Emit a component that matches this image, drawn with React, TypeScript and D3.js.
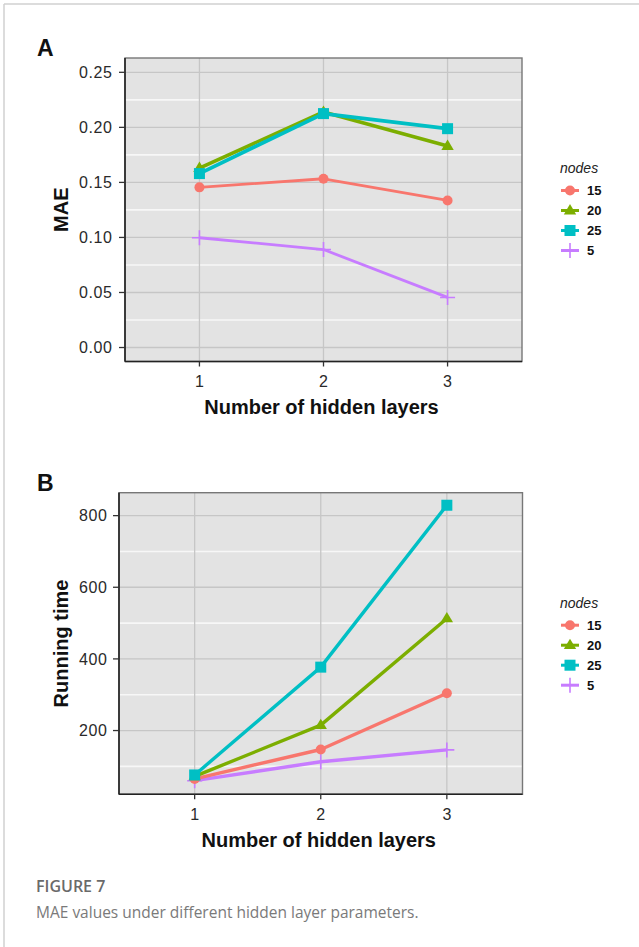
import React from "react";
import * as d3 from "d3";

const layers = [1, 2, 3];
const seriesNames = ["15", "20", "25", "5"];
const seriesColors = ["#F8766D", "#7CAE00", "#00BFC4", "#C77CFF"];
const seriesShapes = ["circle", "triangle", "square", "plus"];

const maeValues: number[][] = [
  [0.1455, 0.1533, 0.1336],
  [0.163, 0.214, 0.183],
  [0.158, 0.2125, 0.1988],
  [0.0997, 0.089, 0.0455],
];
const maeTicks = [0.0, 0.05, 0.1, 0.15, 0.2, 0.25];
const maeMinor = [0.025, 0.075, 0.125, 0.175, 0.225];

const timeValues: number[][] = [
  [65, 147, 304],
  [72, 215, 513],
  [76, 377, 829],
  [60, 113, 146],
];
const timeTicks = [200, 400, 600, 800];
const timeMinor = [100, 300, 500, 700];

const FONT = "'Liberation Sans', Arial, Helvetica, sans-serif";

function Marker({ shape, x, y, color, s = 1 }: any) {
  if (shape === "circle") return <circle cx={x} cy={y} r={5 * s} fill={color} />;
  if (shape === "square") {
    const h = 5.5 * s;
    return <rect x={x - h} y={y - h} width={2 * h} height={2 * h} fill={color} />;
  }
  if (shape === "triangle") {
    const h = 6.5 * s;
    return <path d={`M${x},${y - h}L${x + h * 0.95},${y + h * 0.6}L${x - h * 0.95},${y + h * 0.6}Z`} fill={color} />;
  }
  const h = 7.5 * s;
  return (
    <path d={`M${x - h},${y}H${x + h}M${x},${y - h}V${y + h}`} stroke={color} strokeWidth={1.6} fill="none" />
  );
}

function Panel({ top, bottom, left, right, yDomain, values, ticks, minor, fmt, yTitle, letter, tickRight, lineWidths }: any) {
  const x = d3.scaleLinear().domain([0.4, 3.6]).range([left, right]);
  const y = d3.scaleLinear().domain(yDomain).range([bottom, top]);
  const line = d3
    .line<number>()
    .x((_, i) => x(layers[i]))
    .y((d) => y(d));
  const legendTop = top + 110;
  const order = [3, 0, 1, 2];
  return (
    <g>
      <text x={37} y={top - 2} fontFamily={FONT} fontWeight="bold" fontSize={23} fill="#111">
        {letter}
      </text>
      <rect x={left} y={top} width={right - left} height={bottom - top} fill="#e3e3e3" />
      {minor.map((v: number) => (
        <line key={"m" + v} x1={left} x2={right} y1={y(v)} y2={y(v)} stroke="#f7f7f7" strokeWidth={1.6} />
      ))}
      {ticks.map((v: number) => (
        <line key={"g" + v} x1={left} x2={right} y1={y(v)} y2={y(v)} stroke="#c6c6c6" strokeWidth={1.3} />
      ))}
      {layers.map((v) => (
        <line key={"v" + v} x1={x(v)} x2={x(v)} y1={top} y2={bottom} stroke="#c6c6c6" strokeWidth={1.3} />
      ))}
      {order.map((si) => (
        <g key={"s" + si}>
          <path d={line(values[si]) || ""} fill="none" stroke={seriesColors[si]} strokeWidth={lineWidths[si]} strokeLinejoin="round" />
          {values[si].map((v: number, i: number) => (
            <Marker key={i} shape={seriesShapes[si]} x={x(layers[i])} y={y(v)} color={seriesColors[si]} />
          ))}
        </g>
      ))}
      <rect x={left} y={top} width={right - left} height={bottom - top} fill="none" stroke="#777" strokeWidth={1.4} />
      <line x1={left} x2={left} y1={top} y2={bottom} stroke="#222" strokeWidth={1.6} />
      <line x1={left} x2={right} y1={bottom} y2={bottom} stroke="#222" strokeWidth={1.6} />
      {ticks.map((v: number) => (
        <g key={"t" + v}>
          <line x1={left - 6} x2={left} y1={y(v)} y2={y(v)} stroke="#333" strokeWidth={1.3} />
          <text x={tickRight} y={y(v)} dy="0.36em" textAnchor="end" fontFamily={FONT} fontSize={16} letterSpacing={0.6} fill="#2a2a2a">
            {fmt(v)}
          </text>
        </g>
      ))}
      {layers.map((v) => (
        <g key={"xt" + v}>
          <line x1={x(v)} x2={x(v)} y1={bottom} y2={bottom + 5} stroke="#333" strokeWidth={1.3} />
          <text x={x(v)} y={bottom + 20} dy="0.36em" textAnchor="middle" fontFamily={FONT} fontSize={16} fill="#2a2a2a">
            {v}
          </text>
        </g>
      ))}
      <text x={(left + right) / 2 - 2} y={bottom + 45} dy="0.36em" textAnchor="middle" fontFamily={FONT} fontWeight="bold" fontSize={20} fill="#111">
        Number of hidden layers
      </text>
      <text transform={`translate(61,${(top + bottom) / 2}) rotate(-90)`} dy="0.36em" textAnchor="middle" fontFamily={FONT} fontWeight="bold" fontSize={20} fill="#111">
        {yTitle}
      </text>
      <text x={560} y={legendTop} dy="0.36em" fontFamily={FONT} fontStyle="italic" fontSize={14} fill="#222">
        nodes
      </text>
      {seriesNames.map((n, i) => {
        const ly = legendTop + 22.5 + i * 20;
        return (
          <g key={"l" + n}>
            <line x1={561} x2={579} y1={ly} y2={ly} stroke={seriesColors[i]} strokeWidth={3} />
            <Marker shape={seriesShapes[i]} x={570} y={ly} color={seriesColors[i]} s={1} />
            <text x={587} y={ly} dy="0.36em" fontFamily={FONT} fontWeight="bold" fontSize={13} fill="#111">
              {n}
            </text>
          </g>
        );
      })}
    </g>
  );
}

export default function App() {
  return (
    <svg width={639} height={947} style={{ position: "absolute", left: 0, top: 0, background: "#fff" }}>
      <line x1={4} x2={639} y1={4} y2={4} stroke="#d0d0d0" strokeWidth={1.5} />
      <line x1={4} x2={4} y1={4} y2={947} stroke="#d0d0d0" strokeWidth={1.5} />
      <Panel
        top={58}
        bottom={361.5}
        left={125}
        right={522}
        yDomain={[-0.0127, 0.263]}
        values={maeValues}
        ticks={maeTicks}
        minor={maeMinor}
        fmt={(v: number) => v.toFixed(2)}
        yTitle="MAE"
        letter="A"
        tickRight={112.5}
        lineWidths={[2.8, 3.6, 3.8, 2.8]}
      />
      <Panel
        top={492.7}
        bottom={794.3}
        left={119}
        right={522.5}
        yDomain={[22, 864]}
        values={timeValues}
        ticks={timeTicks}
        minor={timeMinor}
        fmt={(v: number) => String(v)}
        yTitle="Running time"
        letter="B"
        tickRight={107.5}
        lineWidths={[3.4, 3.4, 3.4, 3.4]}
      />
      <text x={36} y={892} fontFamily="'Open Sans', 'Noto Sans', sans-serif" fontWeight="600" fontSize={16} fill="#6a6a6a">
        FIGURE 7
      </text>
      <text x={36} y={918} fontFamily="'Open Sans', 'Noto Sans', sans-serif" fontSize={15.5} fill="#7a7a7a">
        MAE values under different hidden layer parameters.
      </text>
    </svg>
  );
}
